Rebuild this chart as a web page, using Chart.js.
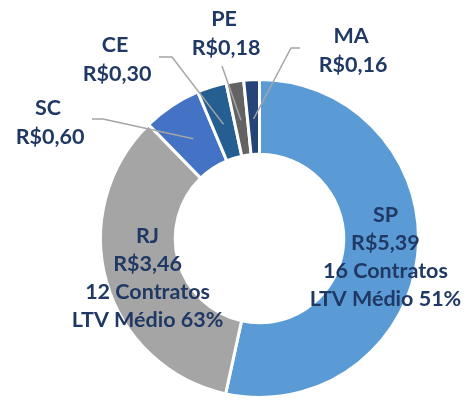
<!DOCTYPE html>
<html>
<head>
<meta charset="utf-8">
<script src="https://cdn.jsdelivr.net/npm/chart.js@4"></script>
<style>
  html, body { margin: 0; padding: 0; background: #fff; }
  #wrap { width: 474px; height: 402px; }
</style>
</head>
<body>
<div id="wrap"><canvas id="c" width="474" height="402"></canvas></div>
<script>
// data
const states = ["SP", "RJ", "SC", "CE", "PE", "MA"];
const values = [5.39, 3.46, 0.60, 0.30, 0.18, 0.16];
const valueLabels = ["R$5,39", "R$3,46", "R$0,60", "R$0,30", "R$0,18", "R$0,16"];
const contracts = ["16 Contratos", "12 Contratos", null, null, null, null];
const ltv = ["LTV Médio 51%", "LTV Médio 63%", null, null, null, null];
const colors = ["#5B9BD5", "#A5A5A5", "#4472C4", "#255E91", "#636363", "#264478"];

// where the small-slice labels sit, and the knee of their leader lines
const outside = {
  SC: { x: 48, y: 108, line: [[92, 119], [103, 119]] },
  CE: { x: 115, y: 45, line: [[159, 57], [172, 57]] },
  PE: { x: 224, y: 19, line: [[222, 66]] },
  MA: { x: 351, y: 36, line: [[300, 48], [291, 48]] },
};

const textColor = "#203864";
const font = "bold 21.5px Lato";
const lineH = 28;

const labelPlugin = {
  id: "sliceLabels",
  afterDatasetsDraw(chart) {
    const ctx = chart.ctx;
    const arcs = chart.getDatasetMeta(0).data;
    ctx.save();
    ctx.font = font;
    ctx.fillStyle = textColor;
    ctx.textAlign = "center";
    ctx.textBaseline = "middle";
    arcs.forEach((arc, i) => {
      const name = states[i];
      const p = arc.getProps(["x", "y", "startAngle", "endAngle", "innerRadius", "outerRadius"], true);
      const mid = (p.startAngle + p.endAngle) / 2;
      if (outside[name]) {
        const o = outside[name];
        const r = (p.innerRadius + p.outerRadius) / 2 - 2;
        const ex = p.x + Math.cos(mid) * r;
        const ey = p.y + Math.sin(mid) * r;
        ctx.strokeStyle = "#A5A5A5";
        ctx.lineWidth = 1.5;
        ctx.beginPath();
        ctx.moveTo(o.line[0][0], o.line[0][1]);
        for (let k = 1; k < o.line.length; k++) ctx.lineTo(o.line[k][0], o.line[k][1]);
        ctx.lineTo(ex, ey);
        ctx.stroke();
        ctx.fillText(name, o.x, o.y);
        ctx.fillText(valueLabels[i], o.x + 2, o.y + 29);
      } else {
        const pos = arc.tooltipPosition();
        const lines = [name, valueLabels[i], contracts[i], ltv[i]];
        const top = pos.y + 6 - (lines.length - 1) * lineH / 2;
        lines.forEach((t, k) => ctx.fillText(t, pos.x + 5, top + k * lineH));
      }
    });
    ctx.restore();
  },
};

new Chart(document.getElementById("c"), {
  type: "doughnut",
  data: {
    labels: states,
    datasets: [{
      data: values,
      backgroundColor: colors,
      borderColor: "#ffffff",
      borderWidth: 3,
    }],
  },
  options: {
    responsive: false,
    animation: false,
    cutout: "53%",
    layout: { padding: { left: 99, right: 54, top: 78, bottom: 3 } },
    plugins: {
      legend: { display: false },
      tooltip: { enabled: false },
    },
  },
  plugins: [labelPlugin],
});
</script>
</body>
</html>
